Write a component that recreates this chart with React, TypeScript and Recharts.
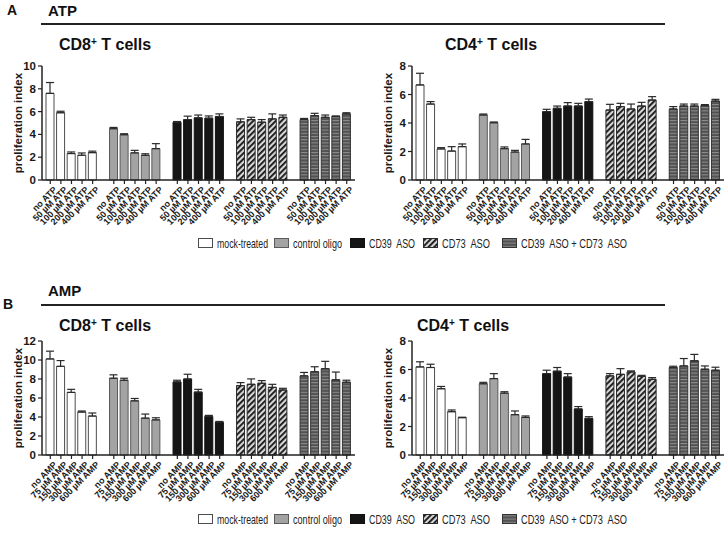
import React from "react"
import { Bar, BarChart, Cell, ErrorBar, XAxis, YAxis } from "recharts"

const FONT = '"Liberation Sans", Arial, Helvetica, sans-serif'

// category labels
const atpLabels = ["no ATP", "50 µM ATP", "100 µM ATP", "200 µM ATP", "400 µM ATP"]
const ampLabels = ["no AMP", "75 µM AMP", "150 µM AMP", "300 µM AMP", "600 µM AMP"]
const treatments = ["mock-treated", "control oligo", "CD39  ASO", "CD73  ASO", "CD39  ASO + CD73  ASO"]

// proliferation index, 5 doses per treatment (mock, control, CD39, CD73, CD39+CD73)
const cd8AtpMean = [
  7.6, 5.9, 2.32, 2.17, 2.4,
  4.5, 3.97, 2.38, 2.17, 2.75,
  5.07, 5.3, 5.45, 5.42, 5.57,
  5.1, 5.3, 5.07, 5.36, 5.5,
  5.3, 5.65, 5.5, 5.57, 5.8,
]
const cd8AtpSem = [
  0.95, 0.13, 0.14, 0.2, 0.13,
  0.11, 0.09, 0.22, 0.13, 0.44,
  0.06, 0.3, 0.25, 0.2, 0.23,
  0.26, 0.2, 0.23, 0.44, 0.2,
  0.1, 0.2, 0.2, 0.05, 0.1,
]
const cd4AtpMean = [
  6.67, 5.33, 2.18, 2.03, 2.34,
  4.56, 4.02, 2.2, 1.96, 2.53,
  4.8, 5.03, 5.19, 5.19, 5.5,
  4.91, 5.15, 4.98, 5.19, 5.61,
  4.98, 5.19, 5.19, 5.22, 5.54,
]
const cd4AtpSem = [
  0.82, 0.17, 0.09, 0.31, 0.19,
  0.07, 0.05, 0.12, 0.12, 0.32,
  0.16, 0.16, 0.24, 0.19, 0.18,
  0.4, 0.23, 0.35, 0.26, 0.24,
  0.17, 0.14, 0.14, 0.07, 0.12,
]
const cd8AmpMean = [
  10.11, 9.33, 6.59, 4.52, 4.1,
  8.08, 7.87, 5.7, 3.88, 3.7,
  7.69, 8.0, 6.62, 4.06, 3.45,
  7.3, 7.44, 7.55, 7.12, 6.84,
  8.33, 8.76, 9.08, 7.91, 7.66,
]
const cd8AmpSem = [
  0.82, 0.61, 0.32, 0.11, 0.32,
  0.36, 0.21, 0.25, 0.43, 0.22,
  0.18, 0.5, 0.29, 0.11, 0.08,
  0.32, 0.57, 0.28, 0.32, 0.18,
  0.36, 0.53, 0.78, 0.82, 0.21,
]
const cd4AmpMean = [
  6.18, 6.14, 4.65, 3.04, 2.62,
  5.0, 5.36, 4.34, 2.83, 2.64,
  5.71, 5.88, 5.47, 3.23, 2.57,
  5.55, 5.66, 5.83, 5.52, 5.31,
  6.14, 6.25, 6.61, 6.02, 5.95,
]
const cd4AmpSem = [
  0.36, 0.23, 0.16, 0.12, 0.03,
  0.1, 0.35, 0.1, 0.26, 0.1,
  0.24, 0.26, 0.24, 0.17, 0.12,
  0.16, 0.4, 0.07, 0.07, 0.12,
  0.09, 0.52, 0.45, 0.23, 0.21,
]

const groupFill = ["#ffffff", "#a3a3a3", "#151515", "url(#diagStripe)", "url(#hStripe)"]
const groupStroke = ["#4d4d4d", "#5a5a5a", "#111111", "#2b2b2b", "#333333"]

function buildRows(labels: string[], mean: number[], sem: number[]) {
  const rows: any[] = []
  treatments.forEach((_, g) => {
    labels.forEach((label, i) => {
      const k = g * labels.length + i
      rows.push({ key: `g${g}-${i}`, label, group: g, value: mean[k], err: [0, sem[k]] })
    })
    if (g < treatments.length - 1) rows.push({ key: `gap${g}`, group: -1 })
  })
  return rows
}

const AngledTick = (props: any) => {
  const { x, y, payload, labelOf } = props
  return (
    <g transform={`translate(${x + 3},${y})`}>
      <text
        x={0}
        y={0}
        dy={6}
        textAnchor="end"
        transform="rotate(-45)"
        fontSize={9}
        fontWeight="bold"
        fontFamily={FONT}
        fill="#1a1a1a"
      >
        {labelOf[payload.value]}
      </text>
    </g>
  )
}

function Panel({
  rows,
  yMax,
  left,
  top,
  width,
  marginRight,
}: {
  rows: any[]
  yMax: number
  left: number
  top: number
  width: number
  marginRight: number
}) {
  const tickKeys = rows.filter((r) => r.group >= 0).map((r) => r.key)
  const labelOf: Record<string, string> = {}
  rows.forEach((r) => (labelOf[r.key] = r.label))
  const yTicks: number[] = []
  for (let v = 0; v <= yMax; v += 2) yTicks.push(v)

  return (
    <div style={{ position: "absolute", left, top }}>
      <BarChart
        width={width}
        height={174}
        data={rows}
        margin={{ top: 10, right: marginRight, left: 0, bottom: 0 }}
        barSize={8}
      >
        <XAxis
          dataKey="key"
          type="category"
          ticks={tickKeys}
          interval={0}
          height={50}
          padding={{ left: 3, right: 3 }}
          tickSize={4}
          axisLine={{ stroke: "#222", strokeWidth: 1.5 }}
          tickLine={{ stroke: "#222", strokeWidth: 1.2 }}
          tick={<AngledTick labelOf={labelOf} />}
        />
        <YAxis
          width={42}
          domain={[0, yMax]}
          ticks={yTicks}
          interval={0}
          tickSize={4}
          axisLine={{ stroke: "#222", strokeWidth: 1.5 }}
          tickLine={{ stroke: "#222", strokeWidth: 1.2 }}
          tick={{ fontSize: 11.5, fontWeight: "bold", fill: "#1a1a1a", fontFamily: FONT }}
          label={{
            value: "proliferation index",
            angle: -90,
            position: "insideLeft",
            offset: 18,
            style: { textAnchor: "middle", fontSize: 11.5, fontWeight: "bold", fill: "#1a1a1a", fontFamily: FONT },
          }}
        />
        <Bar dataKey="value" isAnimationActive={false} strokeWidth={1}>
          {rows.map((r) => (
            <Cell
              key={r.key}
              fill={r.group >= 0 ? groupFill[r.group] : "none"}
              stroke={r.group >= 0 ? groupStroke[r.group] : "none"}
            />
          ))}
          <ErrorBar dataKey="err" direction="y" width={4} strokeWidth={1.2} stroke="#2a2a2a" />
        </Bar>
      </BarChart>
    </div>
  )
}

// legend drawn with condensed text to match the narrow font of the original
const legendBoxX = [198, 274, 350, 423, 502]
const legendTextLen = [51, 49, 46, 48, 106]

const LegendRow = ({ top }: { top: number }) => (
  <svg width={724} height={20} style={{ position: "absolute", left: 0, top }}>
    {treatments.map((t, g) => (
      <g key={t}>
        <rect
          x={legendBoxX[g] + 0.5}
          y={5.5}
          width={14}
          height={9}
          fill={groupFill[g]}
          stroke={groupStroke[g]}
          strokeWidth={1}
        />
        <text
          x={legendBoxX[g] + 19}
          y={14.8}
          fontSize={13.5}
          fontFamily={FONT}
          fill="#222"
          textLength={legendTextLen[g]}
          lengthAdjust="spacingAndGlyphs"
          style={{ whiteSpace: "pre" }}
        >
          {t}
        </text>
      </g>
    ))}
  </svg>
)

const Title = ({ text, left, top, size }: { text: React.ReactNode; left: number; top: number; size: number }) => (
  <div
    style={{
      position: "absolute",
      left,
      top,
      fontFamily: FONT,
      fontWeight: "bold",
      fontSize: size,
      color: "#111",
      lineHeight: 1,
      whiteSpace: "nowrap",
    }}
  >
    {text}
  </div>
)

const cellTitle = (n: string) => (
  <span>
    CD{n}
    <span style={{ fontSize: 10, verticalAlign: 5 }}>+</span> T cells
  </span>
)

export default function App() {
  const cd8Atp = buildRows(atpLabels, cd8AtpMean, cd8AtpSem)
  const cd4Atp = buildRows(atpLabels, cd4AtpMean, cd4AtpSem)
  const cd8Amp = buildRows(ampLabels, cd8AmpMean, cd8AmpSem)
  const cd4Amp = buildRows(ampLabels, cd4AmpMean, cd4AmpSem)

  return (
    <div
      style={{
        position: "absolute",
        left: 0,
        top: 0,
        width: 724,
        height: 535,
        overflow: "hidden",
        background: "#fff",
      }}
    >
      <svg width={0} height={0} style={{ position: "absolute" }}>
        <defs>
          <pattern id="diagStripe" width={4} height={4} patternUnits="userSpaceOnUse" patternTransform="rotate(45)">
            <rect width={4} height={4} fill="#d6d6d6" />
            <rect width={1.8} height={4} fill="#111" />
          </pattern>
          <pattern id="hStripe" width={4} height={3.2} patternUnits="userSpaceOnUse">
            <rect width={4} height={3.2} fill="#525252" />
            <rect width={4} height={1} fill="#8f8f8f" />
          </pattern>
        </defs>
      </svg>

      <Title text="A" left={7} top={3} size={14} />
      <Title text="ATP" left={48} top={3} size={15} />
      <div style={{ position: "absolute", left: 41, top: 23, width: 624, height: 1.5, background: "#222" }} />
      <Title text={cellTitle("8")} left={59} top={37} size={16} />
      <Title text={cellTitle("4")} left={445} top={37} size={16} />
      <Panel rows={cd8Atp} yMax={10} left={0} top={56} width={362} marginRight={7} />
      <Panel rows={cd4Atp} yMax={8} left={370} top={56} width={354} marginRight={0} />
      <LegendRow top={233} />

      <Title text="B" left={3} top={297} size={14} />
      <Title text="AMP" left={48} top={283} size={15} />
      <div style={{ position: "absolute", left: 41, top: 304, width: 624, height: 1.5, background: "#222" }} />
      <Title text={cellTitle("8")} left={59} top={318} size={16} />
      <Title text={cellTitle("4")} left={417} top={318} size={16} />
      <Panel rows={cd8Amp} yMax={12} left={0} top={331} width={362} marginRight={7} />
      <Panel rows={cd4Amp} yMax={8} left={370} top={331} width={354} marginRight={0} />
      <LegendRow top={509} />
    </div>
  )
}
